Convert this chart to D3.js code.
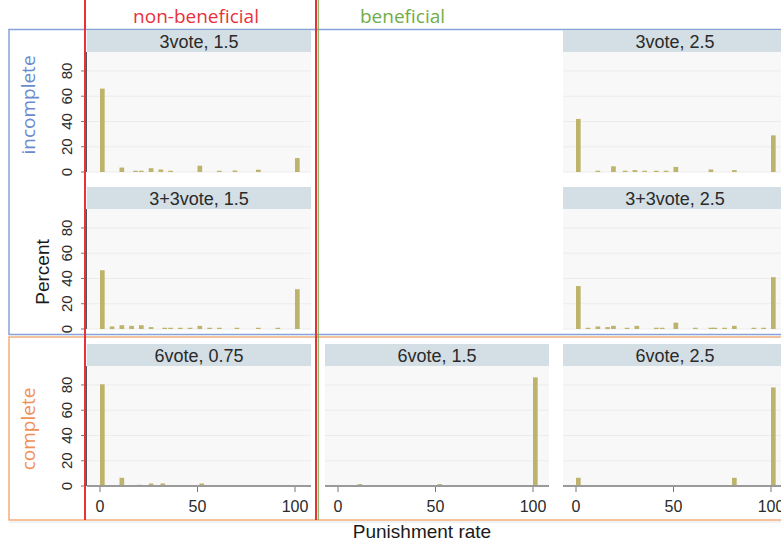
<!DOCTYPE html>
<html>
<head>
<meta charset="utf-8">
<script src="https://cdn.jsdelivr.net/npm/d3@7/dist/d3.min.js"></script>
<style>
  body { margin: 0; background: #fff; }
  svg { display: block; font-family: "Liberation Sans", Arial, sans-serif; }
</style>
</head>
<body>
<svg id="chart" width="781" height="541"></svg>
<script>
// [punishment rate, percent] pairs, one array per panel
const vote3_15 = [[0, 66], [10, 3.5], [17, 1], [20, 1], [25, 3], [30, 2], [35, 1], [50, 5], [60, 1], [68, 1.2], [80, 1.8], [100, 11]];
const vote3_25 = [[0, 42], [10, 1], [18, 4.5], [24, 1], [29, 1.5], [34, 1], [40, 1], [45, 1], [50, 4], [68, 2], [80, 1.5], [100, 29]];
const vote33_15 = [[0, 46.5], [5, 2], [10, 3], [15, 2.5], [20, 3], [25, 1.5], [32, 1], [35, 1], [40, 1], [45, 1], [50, 2.5], [55, 1], [60, 1], [69, 1], [80, 1], [90, 1], [100, 31.5]];
const vote33_25 = [[0, 34], [5, 1], [10, 2], [15, 1.5], [18, 2.5], [25, 1], [30, 2.5], [40, 1], [43, 1], [50, 5], [60, 1], [68, 1], [70, 1], [75, 1], [80, 2.5], [90, 1], [95, 1], [100, 41]];
const vote6_075 = [[0, 80.5], [10, 6.5], [19, 1], [25, 2], [31, 2], [51, 2], [100, 0.8]];
const vote6_15 = [[10, 1.5], [18, 0.8], [25, 0.8], [51, 1.5], [60, 0.8], [75, 0.8], [95, 0.8], [100, 86]];
const vote6_25 = [[0, 6.5], [19, 0.8], [40, 0.8], [51, 0.8], [60, 0.8], [69, 0.8], [80, 6.5], [96, 0.8], [100, 78]];

const panelTitles = ["3vote, 1.5", "3vote, 2.5", "3+3vote, 1.5", "3+3vote, 2.5", "6vote, 0.75", "6vote, 1.5", "6vote, 2.5"];
const panelData = [vote3_15, vote3_25, vote33_15, vote33_25, vote6_075, vote6_15, vote6_25];
const panelCol = [0, 2, 0, 2, 0, 1, 2];
const panelRow = [0, 0, 1, 1, 2, 2, 2];

const yTicks = [0, 20, 40, 60, 80];
const xTicks = [0, 50, 100];

const svg = d3.select('#chart');

// layout
const colLeft = [87, 325, 563];
const rowTop = [30, 187, 344];
const panelW = 224, stripH = 22, plotH = 120;
const binW = 2.4;
const barColor = '#bdb36b';

const x = d3.scaleLinear().domain([0, 100]).range([13, 208]);
const y = d3.scaleLinear().domain([0, 95]).range([plotH, 0]);

// group frames
svg.append('line').attr('x1', 9).attr('x2', 781).attr('y1', 522).attr('y2', 522)
  .attr('stroke', '#e4e4e4').attr('stroke-width', 1);
svg.append('rect').attr('x', 9).attr('y', 29.5).attr('width', 790).attr('height', 305)
  .attr('fill', 'none').attr('stroke', '#86a2d8').attr('stroke-width', 1.5);
svg.append('rect').attr('x', 9).attr('y', 337).attr('width', 790).attr('height', 183)
  .attr('fill', 'none').attr('stroke', '#f4ad7e').attr('stroke-width', 1.5);

panelData.forEach((data, i) => {
  const g = svg.append('g')
    .attr('transform', `translate(${colLeft[panelCol[i]]},${rowTop[panelRow[i]]})`);

  // strip
  g.append('rect').attr('width', panelW).attr('height', stripH).attr('fill', '#d3dee5');
  g.append('text')
    .attr('x', panelW / 2).attr('y', stripH / 2 + 1)
    .attr('text-anchor', 'middle').attr('dominant-baseline', 'central')
    .attr('font-size', 18).attr('fill', '#2a2a2a')
    .text(panelTitles[i]);

  const plot = g.append('g').attr('transform', `translate(0,${stripH})`);
  plot.append('rect').attr('width', panelW).attr('height', plotH).attr('fill', '#f8f8f8');

  plot.selectAll('.grid')
    .data(yTicks)
    .enter().append('line')
    .attr('class', 'grid')
    .attr('x1', 0).attr('x2', panelW)
    .attr('y1', d => y(d)).attr('y2', d => y(d))
    .attr('stroke', '#ececec').attr('stroke-width', 1);

  plot.selectAll('.bar')
    .data(data)
    .enter().append('rect')
    .attr('class', 'bar')
    .attr('x', d => x(d[0]))
    .attr('y', d => y(d[1]))
    .attr('width', x(binW) - x(0))
    .attr('height', d => y(0) - y(d[1]))
    .attr('fill', barColor);

  if (panelCol[i] === 0) {
    plot.append('line')
      .attr('x1', -0.5).attr('x2', -0.5).attr('y1', 0).attr('y2', plotH)
      .attr('stroke', '#555').attr('stroke-width', 1);
    plot.selectAll('.ytick')
      .data(yTicks)
      .enter().append('line')
      .attr('x1', -6).attr('x2', -1)
      .attr('y1', d => y(d)).attr('y2', d => y(d))
      .attr('stroke', '#777');
    plot.selectAll('.ylab')
      .data(yTicks)
      .enter().append('text')
      .attr('transform', d => `translate(-15,${y(d)}) rotate(-90)`)
      .attr('text-anchor', 'middle')
      .attr('font-size', 15).attr('fill', '#2a2a2a')
      .text(d => d);
  }

  if (panelRow[i] === 2) {
    const xa = plot.append('g').attr('transform', `translate(0,${plotH})`);
    xa.append('line').attr('x1', 0).attr('x2', panelW)
      .attr('stroke', '#9a9a9a').attr('stroke-width', 2);
    xa.selectAll('.xtick')
      .data(xTicks)
      .enter().append('line')
      .attr('x1', d => x(d)).attr('x2', d => x(d))
      .attr('y1', 1).attr('y2', 6)
      .attr('stroke', '#777');
    xa.selectAll('.xlab')
      .data(xTicks)
      .enter().append('text')
      .attr('x', d => x(d)).attr('y', 26)
      .attr('text-anchor', 'middle')
      .attr('font-size', 16).attr('fill', '#2a2a2a')
      .text(d => d);
  }
});

// dividers
svg.append('line').attr('x1', 85).attr('x2', 85).attr('y1', 0).attr('y2', 520)
  .attr('stroke', '#e8323b').attr('stroke-width', 2);
svg.append('line').attr('x1', 316).attr('x2', 316).attr('y1', 0).attr('y2', 520)
  .attr('stroke', '#e8323b').attr('stroke-width', 2);
svg.append('line').attr('x1', 318.3).attr('x2', 318.3).attr('y1', 0).attr('y2', 520)
  .attr('stroke', '#70ad47').attr('stroke-width', 1);

// headers and axis titles
const hdrFont = '"Open Sans", sans-serif', hdrSize = 19;
svg.append('text').attr('x', 196).attr('y', 23).attr('text-anchor', 'middle')
  .attr('font-family', hdrFont).attr('font-size', hdrSize)
  .attr('fill', '#e8323b').text('non-beneficial');
svg.append('text').attr('x', 360).attr('y', 23)
  .attr('font-family', hdrFont).attr('font-size', hdrSize)
  .attr('fill', '#70ad47').text('beneficial');
svg.append('text').attr('transform', 'translate(35,105) rotate(-90)').attr('text-anchor', 'middle')
  .attr('font-family', hdrFont).attr('font-size', hdrSize)
  .attr('fill', '#6a8bcd').text('incomplete');
svg.append('text').attr('transform', 'translate(35,429) rotate(-90)').attr('text-anchor', 'middle')
  .attr('font-family', hdrFont).attr('font-size', hdrSize)
  .attr('fill', '#ef9154').text('complete');
svg.append('text').attr('transform', 'translate(49,272) rotate(-90)').attr('text-anchor', 'middle')
  .attr('font-size', 19).attr('fill', '#1a1a1a').text('Percent');
svg.append('text').attr('x', 422).attr('y', 538).attr('text-anchor', 'middle')
  .attr('font-size', 19).attr('fill', '#1a1a1a').text('Punishment rate');
</script>
</body>
</html>
